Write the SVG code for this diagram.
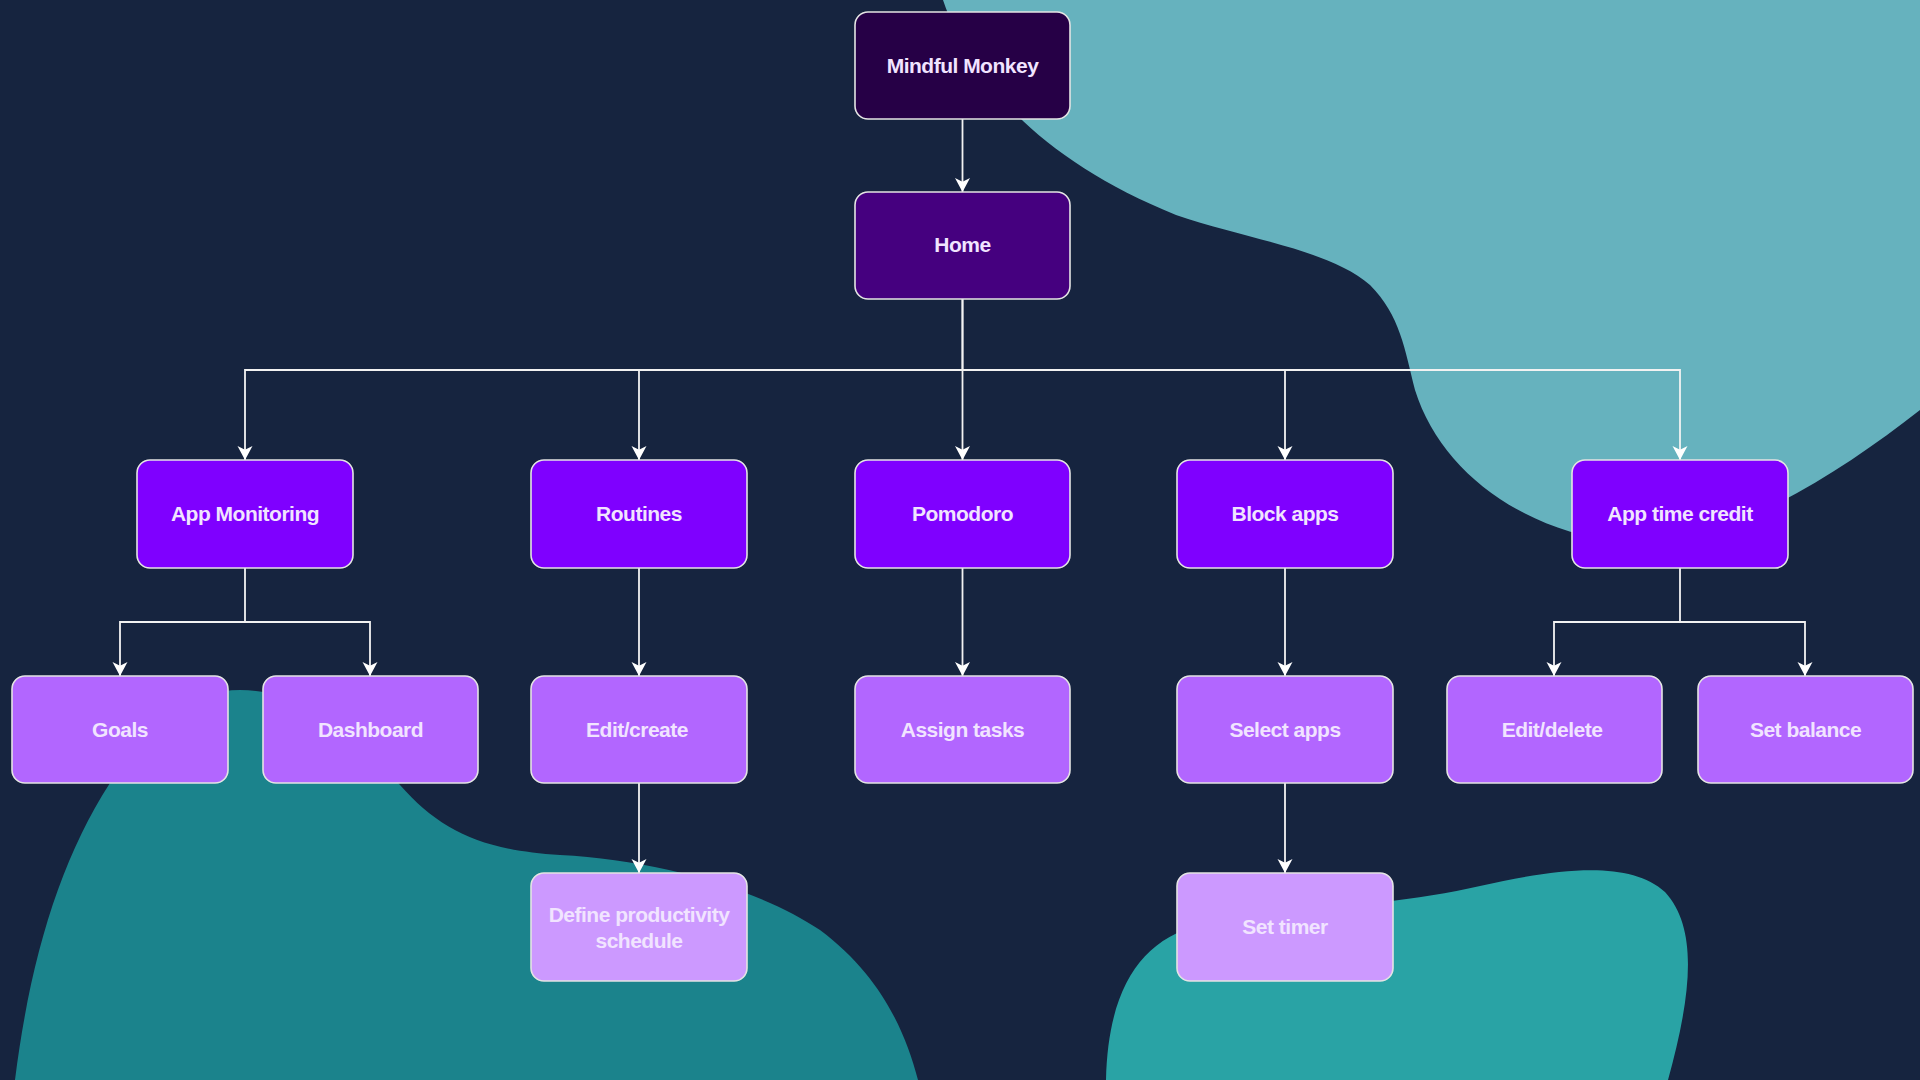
<svg xmlns="http://www.w3.org/2000/svg" width="1920" height="1080" viewBox="0 0 1920 1080">
<style>
.bg{fill:#16243f}
.node rect{stroke:#e4e4e4;stroke-width:1.6}
.node text{font-family:"Liberation Sans",Arial,sans-serif;font-weight:bold;font-size:21px;fill:#f1e4ff;text-anchor:middle;letter-spacing:-0.5px}
.l0 rect{fill:#260046}
.l1 rect{fill:#45007f}
.l2 rect{fill:#7f00ff}
.l3 rect{fill:#b266ff}
.l4 rect{fill:#cc99ff}
#connectors path{fill:none;stroke:#f2f2f2;stroke-width:1.8;marker-end:url(#arrow)}
</style>
<defs>
<marker id="arrow" markerUnits="userSpaceOnUse" markerWidth="18" markerHeight="18" viewBox="-1 -9 18 18" refX="14" refY="0" orient="auto">
<path d="M0,-7.5 L14,0 L0,7.5 L3.8,0 Z" fill="#ffffff"/>
</marker>
</defs>
<rect class="bg" x="0" y="0" width="1920" height="1080"/>
<g id="background">
<path d="M943,0 C970,80 1040,160 1176,215 C1250,240 1330,250 1370,285 C1400,315 1405,350 1415,390 C1440,470 1520,530 1620,542 C1720,550 1830,480 1920,410 L1920,0 Z" fill="#66b2be"/>
<path d="M15,1080 C30,960 60,860 110,783 C150,720 190,690 240,690 C310,690 360,740 400,785 C440,830 480,850 560,855 C660,860 760,890 820,930 C880,975 905,1030 918,1080 Z" fill="#1b838c"/>
<path d="M1106,1080 C1108,990 1140,940 1200,925 C1300,908 1400,905 1480,886 C1560,868 1630,860 1665,892 C1700,930 1690,1000 1668,1080 Z" fill="#29a3a5"/>
</g>
<g id="connectors">
<path d="M962.5,119 V192"/>
<path d="M962.5,299 V370 H245 V460"/>
<path d="M962.5,370 H639 V460"/>
<path d="M962.5,299 V460"/>
<path d="M962.5,370 H1285 V460"/>
<path d="M962.5,370 H1680 V460"/>
<path d="M245,568 V622 H120 V676"/>
<path d="M245,622 H370 V676"/>
<path d="M639,568 V676"/>
<path d="M639,783 V873"/>
<path d="M962.5,568 V676"/>
<path d="M1285,568 V676"/>
<path d="M1285,783 V873"/>
<path d="M1680,568 V622 H1554 V676"/>
<path d="M1680,622 H1805 V676"/>
</g>
<g id="mindful-monkey" class="node l0"><rect x="855" y="12" width="215" height="107" rx="13"/><text x="962.5" y="73">Mindful Monkey</text></g>
<g id="home" class="node l1"><rect x="855" y="192" width="215" height="107" rx="13"/><text x="962.5" y="252">Home</text></g>
<g id="app-monitoring" class="node l2"><rect x="137" y="460" width="216" height="108" rx="13"/><text x="245" y="521">App Monitoring</text></g>
<g id="routines" class="node l2"><rect x="531" y="460" width="216" height="108" rx="13"/><text x="639" y="521">Routines</text></g>
<g id="pomodoro" class="node l2"><rect x="855" y="460" width="215" height="108" rx="13"/><text x="962.5" y="521">Pomodoro</text></g>
<g id="block-apps" class="node l2"><rect x="1177" y="460" width="216" height="108" rx="13"/><text x="1285" y="521">Block apps</text></g>
<g id="app-time-credit" class="node l2"><rect x="1572" y="460" width="216" height="108" rx="13"/><text x="1680" y="521">App time credit</text></g>
<g id="goals" class="node l3"><rect x="12" y="676" width="216" height="107" rx="13"/><text x="120" y="737">Goals</text></g>
<g id="dashboard" class="node l3"><rect x="263" y="676" width="215" height="107" rx="13"/><text x="370.5" y="737">Dashboard</text></g>
<g id="edit-create" class="node l3"><rect x="531" y="676" width="216" height="107" rx="13"/><text x="637" y="737">Edit/create</text></g>
<g id="assign-tasks" class="node l3"><rect x="855" y="676" width="215" height="107" rx="13"/><text x="962.5" y="737">Assign tasks</text></g>
<g id="select-apps" class="node l3"><rect x="1177" y="676" width="216" height="107" rx="13"/><text x="1285" y="737">Select apps</text></g>
<g id="edit-delete" class="node l3"><rect x="1447" y="676" width="215" height="107" rx="13"/><text x="1552" y="737">Edit/delete</text></g>
<g id="set-balance" class="node l3"><rect x="1698" y="676" width="215" height="107" rx="13"/><text x="1805.5" y="737">Set balance</text></g>
<g id="define-productivity-schedule" class="node l4"><rect x="531" y="873" width="216" height="108" rx="13"/><text x="639" y="922">Define productivity</text><text x="639" y="948">schedule</text></g>
<g id="set-timer" class="node l4"><rect x="1177" y="873" width="216" height="108" rx="13"/><text x="1285" y="934">Set timer</text></g>
</svg>
